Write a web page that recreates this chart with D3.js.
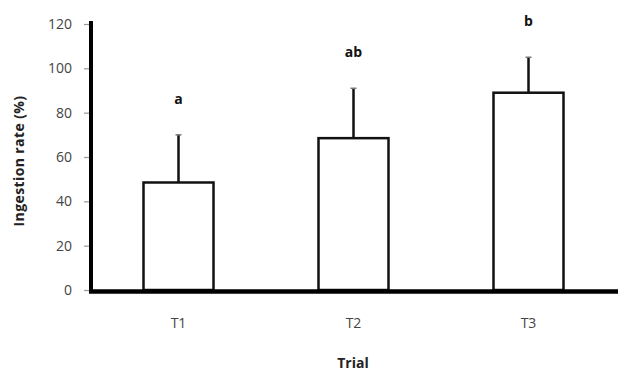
<!DOCTYPE html>
<html>
<head>
<meta charset="utf-8">
<script src="https://cdn.jsdelivr.net/npm/d3@7"></script>
<style>
  body { margin: 0; background: #fff; }
  text { font-family: "Open Sans", "Liberation Sans", sans-serif; }
</style>
</head>
<body>
<div id="chart"></div>
<script>
// data
var trials = ["T1", "T2", "T3"];
var means = [48.5, 68.5, 89];
var sds = [21.5, 22.5, 16];
var letters = ["a", "ab", "b"];
var yTicks = [0, 20, 40, 60, 80, 100, 120];

var width = 625, height = 377;
var margin = {top: 24, right: 8, bottom: 87, left: 91};

var svg = d3.select("#chart")
  .append("svg")
  .attr("width", width)
  .attr("height", height);

var x = d3.scaleBand()
  .domain(trials)
  .range([margin.left, margin.left + 525])
  .paddingInner(0.6)
  .paddingOuter(0.3);

var y = d3.scaleLinear()
  .domain([0, 120])
  .range([height - margin.bottom, margin.top]);

// y axis ticks + labels
var yAxis = svg.append("g")
  .attr("transform", "translate(" + (margin.left - 2) + ",0)")
  .call(d3.axisLeft(y).tickValues(yTicks).tickSize(5).tickPadding(12));
yAxis.select(".domain").remove();
yAxis.selectAll(".tick line").attr("stroke", "#999").attr("stroke-width", 1.2);
yAxis.selectAll(".tick text")
  .attr("fill", "#444")
  .style("font-size", "14px");

var data = trials.map(function(t, i) {
  return {trial: t, mean: means[i], sd: sds[i], letter: letters[i]};
});

// error bars (upper only)
svg.selectAll(".err")
  .data(data)
  .enter().append("line")
  .attr("class", "err")
  .attr("x1", function(d) { return x(d.trial) + x.bandwidth() / 2; })
  .attr("x2", function(d) { return x(d.trial) + x.bandwidth() / 2; })
  .attr("y1", function(d) { return y(d.mean); })
  .attr("y2", function(d) { return y(d.mean + d.sd); })
  .attr("stroke", "#111")
  .attr("stroke-width", 2.5);

svg.selectAll(".cap")
  .data(data)
  .enter().append("line")
  .attr("class", "cap")
  .attr("x1", function(d) { return x(d.trial) + x.bandwidth() / 2 - 3; })
  .attr("x2", function(d) { return x(d.trial) + x.bandwidth() / 2 + 3; })
  .attr("y1", function(d) { return y(d.mean + d.sd); })
  .attr("y2", function(d) { return y(d.mean + d.sd); })
  .attr("stroke", "#777")
  .attr("stroke-width", 1.5);

// bars
svg.selectAll(".bar")
  .data(data)
  .enter().append("rect")
  .attr("class", "bar")
  .attr("x", function(d) { return x(d.trial); })
  .attr("y", function(d) { return y(d.mean); })
  .attr("width", x.bandwidth())
  .attr("height", function(d) { return y(0) - y(d.mean); })
  .attr("fill", "#fff")
  .attr("stroke", "#111")
  .attr("stroke-width", 2.5);

// significance letters
svg.selectAll(".letter")
  .data(data)
  .enter().append("text")
  .attr("class", "letter")
  .attr("x", function(d) { return x(d.trial) + x.bandwidth() / 2; })
  .attr("y", function(d) { return y(d.mean + d.sd) - 31; })
  .attr("text-anchor", "middle")
  .attr("font-weight", "bold")
  .style("font-size", "14px")
  .attr("fill", "#111")
  .text(function(d) { return d.letter; });

// thick axis lines
svg.append("line")
  .attr("x1", margin.left).attr("x2", margin.left)
  .attr("y1", 21).attr("y2", y(0) + 3)
  .attr("stroke", "#000").attr("stroke-width", 4);
svg.append("line")
  .attr("x1", margin.left - 2).attr("x2", x.range()[1] + 2)
  .attr("y1", y(0) + 1.5).attr("y2", y(0) + 1.5)
  .attr("stroke", "#000").attr("stroke-width", 4.5);

// x tick labels
svg.selectAll(".xlab")
  .data(trials)
  .enter().append("text")
  .attr("class", "xlab")
  .attr("x", function(d) { return x(d) + x.bandwidth() / 2; })
  .attr("y", 328)
  .attr("text-anchor", "middle")
  .attr("fill", "#444")
  .style("font-size", "14px")
  .text(function(d) { return d; });

// axis titles
svg.append("text")
  .attr("x", 353)
  .attr("y", 368)
  .attr("text-anchor", "middle")
  .attr("font-weight", "bold")
  .attr("fill", "#222")
  .style("font-size", "14px")
  .text("Trial");

svg.append("text")
  .attr("transform", "translate(24,161) rotate(-90)")
  .attr("text-anchor", "middle")
  .attr("font-weight", "bold")
  .attr("fill", "#222")
  .style("font-size", "14px")
  .style("letter-spacing", "0.4px")
  .text("Ingestion rate (%)");
</script>
</body>
</html>
